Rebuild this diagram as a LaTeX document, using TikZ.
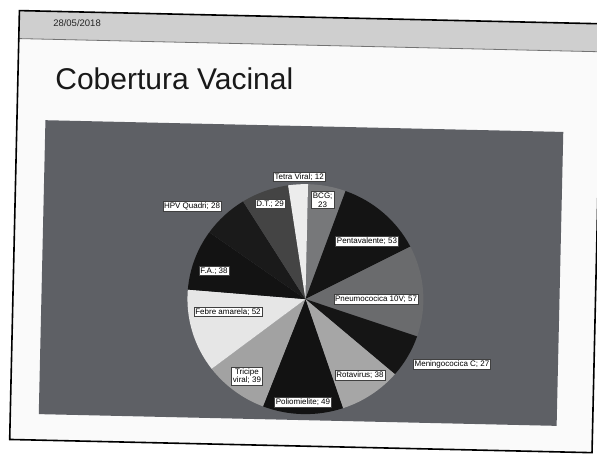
\documentclass[tikz,border=0pt]{standalone}
\usepackage{fontspec}
\setmainfont{Liberation Sans}
\definecolor{chartbg}{HTML}{5E6065}
\definecolor{cbcg}{HTML}{77787A}
\definecolor{cpenta}{HTML}{141414}
\definecolor{cpneumo}{HTML}{6A6B6D}
\definecolor{cmening}{HTML}{151515}
\definecolor{crota}{HTML}{A6A6A6}
\definecolor{cpolio}{HTML}{121212}
\definecolor{ctricipe}{HTML}{A2A2A2}
\definecolor{cfebre}{HTML}{E6E6E6}
\definecolor{cfa}{HTML}{131313}
\definecolor{chpv}{HTML}{1A1A1A}
\definecolor{cdt}{HTML}{444444}
\definecolor{ctetra}{HTML}{ECECEC}
\definecolor{band}{HTML}{CFCFCF}
\newcommand\myslice[3]{\fill[#3] (c) -- ++({#1-90}:118 and 115) arc[start angle={#1-90},end angle={#2-90},x radius=118,y radius=115] -- cycle;}
\begin{document}
\begin{tikzpicture}[x=1pt,y=-1pt,
  lbl/.style={draw=black!75,line width=0.4pt,fill=white,inner sep=1.3pt,
    font=\fontsize{8}{8.8}\selectfont,align=center,text=black}]
\useasboundingbox (0,0) rectangle (597,454);
\fill[white] (0,0) rectangle (597,454);
\begin{scope}[rotate around={-1.3:(300,230)}]
  % slide
  \fill[white!98!black] (14.5,17) rectangle (597,446);
  \fill[band] (14.5,17) rectangle (605,45);
  \draw[black!55,line width=0.8pt] (14.5,45) -- (605,45);
  \draw[black,line width=1.6pt] (605,17) -- (14.5,17) -- (14.5,446) -- (597,446) -- (597,40);
  \node[anchor=base west,inner sep=0,font=\fontsize{9.5}{10}\selectfont,text=black!85] (date) at (48.5,32.5) {28/05/2018};
  \node[anchor=base west,inner sep=0,font=\fontsize{30}{36}\selectfont,text=black!90] (title) at (52,94.6) {Cobertura Vacinal};
  % chart area
  \fill[chartbg] (43,126) rectangle (561,420);
  \coordinate (c) at (307,299);
  \myslice{0}{18.607}{cbcg}
  \myslice{18.607}{61.483}{cpenta}
  \myslice{61.483}{107.596}{cpneumo}
  \myslice{107.596}{129.438}{cmening}
  \myslice{129.438}{160.180}{crota}
  \myslice{160.180}{199.820}{cpolio}
  \myslice{199.820}{231.371}{ctricipe}
  \myslice{231.371}{273.438}{cfebre}
  \myslice{273.438}{304.180}{cfa}
  \myslice{304.180}{326.831}{chpv}
  \myslice{326.831}{350.292}{cdt}
  \myslice{350.292}{360}{ctetra}
  % labels
  \node[lbl] (tetra) at (298,177) {Tetra Viral; 12};
  \node[lbl] (bcg) at (322,199.5) {BCG;\\23};
  \node[lbl] (dt) at (269.5,204.7) {D.T.; 29};
  \node[lbl] (hpv) at (191.5,208.5) {HPV Quadri; 28};
  \node[lbl] (penta) at (367.2,239.5) {Pentavalente; 53};
  \node[lbl] (fa) at (215,273) {F.A.; 38};
  \node[lbl] (pneumo) at (377.6,297.3) {Pneumococica 10V; 57};
  \node[lbl] (febre) at (229.9,313.6) {Febre amarela; 52};
  \node[lbl] (mening) at (455,360.5) {Meningococica C; 27};
  \node[lbl] (rota) at (363.3,373.6) {Rotavirus; 38};
  \node[lbl] (tricipe) at (250.3,377.2) {Tricipe\\viral; 39};
  \node[lbl] (polio) at (306.9,402) {Poliomielite; 49};
\end{scope}
\end{tikzpicture}
\end{document}
